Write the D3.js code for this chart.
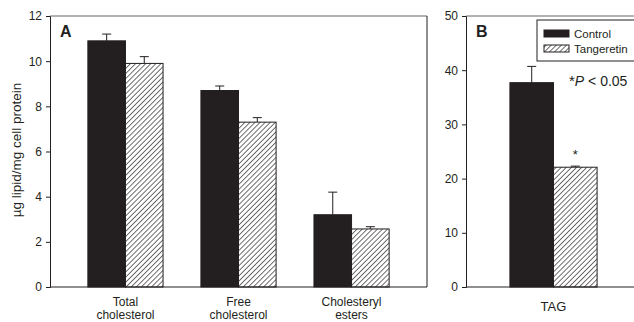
<!DOCTYPE html>
<html>
<head>
<meta charset="utf-8">
<script src="https://cdn.jsdelivr.net/npm/d3@7"></script>
<style>
  body { margin: 0; background: #fff; }
  svg text { font-family: "Liberation Sans", Arial, sans-serif; fill: #231f20; }
</style>
</head>
<body>
<svg id="chart" width="634" height="322"></svg>
<script>
// Panel A: cellular cholesterol content
const categoriesA = ["Total cholesterol", "Free cholesterol", "Cholesteryl esters"];
const categoryLinesA = [["Total", "cholesterol"], ["Free", "cholesterol"], ["Cholesteryl", "esters"]];
const controlA = [10.9, 8.7, 3.2];
const controlErrA = [0.3, 0.2, 1.0];
const tangeretinA = [9.9, 7.3, 2.57];
const tangeretinErrA = [0.3, 0.2, 0.1];
const ticksA = [0, 2, 4, 6, 8, 10, 12];

// Panel B: triacylglycerol content
const categoriesB = ["TAG"];
const controlB = [37.7];
const controlErrB = [3.0];
const tangeretinB = [22.1];
const tangeretinErrB = [0.2];
const ticksB = [0, 10, 20, 30, 40, 50];

const seriesNames = ["Control", "Tangeretin"];

const ink = "#231f20";
const svg = d3.select("#chart");

// diagonal hatch for the Tangeretin bars
const defs = svg.append("defs");
const pat = defs.append("pattern")
  .attr("id", "hatch")
  .attr("patternUnits", "userSpaceOnUse")
  .attr("width", 3.6).attr("height", 3.6)
  .attr("patternTransform", "rotate(45)");
pat.append("rect").attr("width", 3.6).attr("height", 3.6).attr("fill", "#fff");
pat.append("line").attr("x1", 0).attr("y1", 0).attr("x2", 0).attr("y2", 3.6)
  .attr("stroke", ink).attr("stroke-width", 1.3);

const fills = { Control: ink, Tangeretin: "url(#hatch)" };

function panel(cfg) {
  const g = svg.append("g");
  const x = d3.scaleBand().domain(cfg.categories).range([cfg.x0, cfg.x1]).padding(0.335);
  const xs = d3.scaleBand().domain(seriesNames).range([0, x.bandwidth()]).padding(0);
  const y = d3.scaleLinear().domain([0, cfg.max]).range([cfg.yBottom, cfg.yTop]);

  // frame: top and right edges
  g.append("line").attr("x1", cfg.x0).attr("x2", cfg.frameRight)
    .attr("y1", cfg.yTop).attr("y2", cfg.yTop)
    .attr("stroke", "#666").attr("stroke-width", 1);
  if (cfg.frameRight < 634) {
    g.append("line").attr("x1", cfg.frameRight).attr("x2", cfg.frameRight)
      .attr("y1", cfg.yTop).attr("y2", cfg.yBottom)
      .attr("stroke", ink).attr("stroke-width", 1);
  }

  const rows = cfg.categories.map((c, i) => [
    { cat: c, s: "Control", v: cfg.control[i], e: cfg.controlErr[i] },
    { cat: c, s: "Tangeretin", v: cfg.tang[i], e: cfg.tangErr[i] }
  ]).flat();

  // error bars (upper only)
  const eb = g.selectAll(".err").data(rows).join("g").attr("class", "err");
  eb.append("line")
    .attr("x1", d => x(d.cat) + xs(d.s) + xs.bandwidth() / 2)
    .attr("x2", d => x(d.cat) + xs(d.s) + xs.bandwidth() / 2)
    .attr("y1", d => y(d.v)).attr("y2", d => y(d.v + d.e))
    .attr("stroke", ink).attr("stroke-width", 1);
  eb.append("line")
    .attr("x1", d => x(d.cat) + xs(d.s) + xs.bandwidth() / 2 - 4.5)
    .attr("x2", d => x(d.cat) + xs(d.s) + xs.bandwidth() / 2 + 4.5)
    .attr("y1", d => y(d.v + d.e)).attr("y2", d => y(d.v + d.e))
    .attr("stroke", ink).attr("stroke-width", 1);

  // bars
  g.selectAll(".bar").data(rows).join("rect").attr("class", "bar")
    .attr("x", d => x(d.cat) + xs(d.s))
    .attr("width", xs.bandwidth())
    .attr("y", d => y(d.v))
    .attr("height", d => y(0) - y(d.v))
    .attr("fill", d => fills[d.s])
    .attr("stroke", ink).attr("stroke-width", 1);

  // y axis
  const ay = g.append("g").attr("transform", `translate(${cfg.x0},0)`)
    .call(d3.axisLeft(y).tickValues(cfg.ticks).tickSize(4).tickPadding(4));
  ay.select(".domain").attr("stroke", ink);
  ay.selectAll(".tick line").attr("stroke", ink);
  ay.selectAll(".tick text").attr("font-size", 12).attr("fill", ink);

  // baseline
  g.append("line").attr("x1", cfg.x0).attr("x2", cfg.frameRight)
    .attr("y1", y(0)).attr("y2", y(0)).attr("stroke", ink).attr("stroke-width", 1);

  // panel letter
  g.append("text").attr("x", cfg.x0 + 10).attr("y", cfg.yTop + 21)
    .attr("font-size", 16).attr("font-weight", "bold").text(cfg.letter);

  return { g, x, xs, y };
}

const A = panel({
  categories: categoriesA, control: controlA, controlErr: controlErrA,
  tang: tangeretinA, tangErr: tangeretinErrA, max: 12, ticks: ticksA,
  x0: 50, x1: 427, frameRight: 427, yTop: 16, yBottom: 287, letter: "A"
});

// category labels for panel A (two lines each)
categoriesA.forEach((c, i) => {
  const t = A.g.append("text")
    .attr("x", A.x(c) + A.x.bandwidth() / 2)
    .attr("y", 306).attr("text-anchor", "middle").attr("font-size", 12);
  categoryLinesA[i].forEach((ln, j) => {
    t.append("tspan").attr("x", A.x(c) + A.x.bandwidth() / 2)
      .attr("dy", j === 0 ? 0 : 13).text(ln);
  });
});

// y-axis title
svg.append("text")
  .attr("transform", "translate(21,150) rotate(-90)")
  .attr("text-anchor", "middle").attr("font-size", 13.5)
  .text("µg lipid/mg cell protein");

const B = panel({
  categories: categoriesB, control: controlB, controlErr: controlErrB,
  tang: tangeretinB, tangErr: tangeretinErrB, max: 50, ticks: ticksB,
  x0: 466, x1: 641, frameRight: 641, yTop: 16, yBottom: 287, letter: "B"
});

B.g.append("text")
  .attr("x", B.x("TAG") + B.x.bandwidth() / 2).attr("y", 311)
  .attr("text-anchor", "middle").attr("font-size", 13).text("TAG");

// significance marker above the Tangeretin TAG bar
B.g.append("text")
  .attr("x", B.x("TAG") + B.xs("Tangeretin") + B.xs.bandwidth() / 2)
  .attr("y", B.y(tangeretinB[0] + 1.6))
  .attr("text-anchor", "middle").attr("font-size", 13).text("*");

// significance note
const note = B.g.append("text").attr("x", 569).attr("y", 86).attr("font-size", 14);
note.append("tspan").attr("font-size", 15).attr("dy", 0).text("*");
note.append("tspan").attr("font-style", "italic").text("P");
note.append("tspan").text(" < 0.05");

// legend
const lg = svg.append("g");
lg.append("rect").attr("x", 537).attr("y", 20).attr("width", 110).attr("height", 41)
  .attr("fill", "#fff").attr("stroke", ink).attr("stroke-width", 1);
seriesNames.forEach((s, i) => {
  lg.append("rect").attr("x", 544).attr("y", 30 + i * 15).attr("width", 25).attr("height", 7)
    .attr("fill", fills[s]).attr("stroke", ink).attr("stroke-width", 1);
  lg.append("text").attr("x", 574).attr("y", 37.5 + i * 15).attr("font-size", 11.5).text(s);
});
</script>
</body>
</html>
